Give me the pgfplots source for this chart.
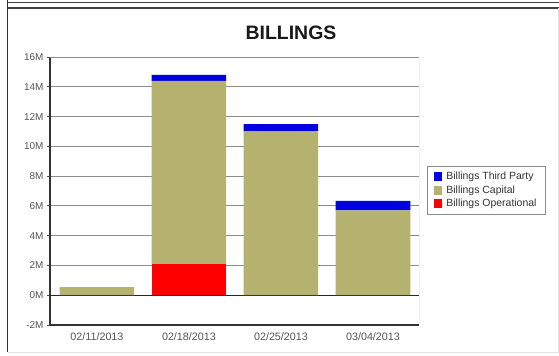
\documentclass[border=0pt]{standalone}
\usepackage{pgfplots}
\pgfplotsset{compat=1.18}
\usepackage{fontspec}
\setmainfont{Liberation Sans}
\definecolor{capital}{RGB}{181,178,112}
\definecolor{third}{RGB}{0,0,225}
\definecolor{oper}{RGB}{255,0,0}
\definecolor{ticktext}{RGB}{85,85,85}
\begin{document}
\begin{tikzpicture}[x=1bp,y=1bp]
\useasboundingbox (-50,-30) rectangle (509,325);
% window frame
\draw[line width=1.5bp, black!80] (-42.5,325) -- (-42.5,-27);
\draw[line width=1.5bp, black!75] (-42,322.5) -- (509,322.5);
\draw[line width=1.5bp, black!75] (-42,317) -- (509,317);
\draw[line width=0.8bp, black!12] (-42,-27) -- (508,-27) -- (508,317);
\begin{axis}[
  at={(0,0)}, anchor=south west,
  scale only axis, width=369bp, height=268bp,
  xmin=-0.51, xmax=3.5, ymin=-2, ymax=16,
  ybar stacked, bar width=0.81,
  axis x line*=bottom, axis y line*=left,
  axis line style={line width=1.3bp, black!80, -},
  xtick={0,1,2,3},
  xticklabels={02/11/2013,02/18/2013,02/25/2013,03/04/2013},
  ytick={-2,0,2,4,6,8,10,12,14,16},
  yticklabels={-2M,0M,2M,4M,6M,8M,10M,12M,14M,16M},
  xtick style={draw=none},
  ytick style={black!70, line width=0.8bp},
  tick align=outside, major tick length=3bp,
  ticklabel style={font=\fontsize{10}{11}\selectfont, text=ticktext},
  xticklabel style={font=\fontsize{10.8}{12}\selectfont, yshift=-1bp},
  ymajorgrids, grid style={black!45, line width=1bp},
  /pgf/number format/assume math mode=true,
  legend style={at={(1.0217,0.595)}, anchor=north west,
    draw=black!45, line width=0.8bp, fill=white,
    font=\fontsize{10.5}{12}\selectfont, text=black!80,
    inner xsep=7bp, inner ysep=4bp, row sep=0.5bp, column sep=2bp,
    cells={anchor=west}},
  legend cell align=left,
  reverse legend,
  legend image code/.code={\fill[#1] (0bp,-4.5bp) rectangle (8bp,4.5bp);},
]
\addplot[fill=oper, draw=none] coordinates {(0,0) (1,2.1) (2,0) (3,0)};
\addlegendentry{Billings Operational}
\addplot[fill=capital, draw=none] coordinates {(0,0.55) (1,12.3) (2,11.0) (3,5.7)};
\addlegendentry{Billings Capital}
\addplot[fill=third, draw=none] coordinates {(0,0) (1,0.4) (2,0.5) (3,0.63)};
\addlegendentry{Billings Third Party}
\draw[black!85, line width=1.2bp] (axis cs:-0.51,0) -- (axis cs:3.5,0);
\draw[black!45, line width=1bp] (rel axis cs:0,1) -- (rel axis cs:1,1) -- (rel axis cs:1,0);
\end{axis}
\node[font=\bfseries\fontsize{19.5}{22}\selectfont, text=black!90] at (241,292) {BILLINGS};
\end{tikzpicture}
\end{document}
